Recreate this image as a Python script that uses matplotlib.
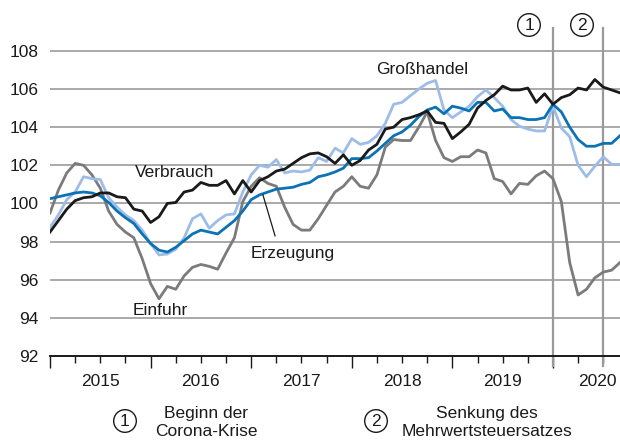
import matplotlib
matplotlib.use("Agg")
import matplotlib.pyplot as plt
from matplotlib.transforms import blended_transform_factory

plt.rcParams['font.family'] = ['Liberation Sans', 'DejaVu Sans']

# Monatswerte Januar 2015 bis September 2020 (Index)
monate = list(range(69))

verbrauch = [98.5, 99.1, 99.7, 100.15, 100.3, 100.35, 100.55, 100.55, 100.35, 100.3,
             99.7, 99.6, 99.0, 99.3, 100.0, 100.05, 100.6, 100.7, 101.1, 100.95,
             100.95, 101.2, 100.5, 101.2, 100.6, 101.2, 101.4, 101.7, 101.8, 102.1,
             102.4, 102.6, 102.65, 102.45, 102.1, 102.55, 102.0, 102.25, 102.8, 103.1,
             103.9, 104.0, 104.4, 104.5, 104.65, 104.85, 104.25, 104.2, 103.4, 103.75,
             104.15, 105.0, 105.4, 105.7, 106.15, 105.95, 105.95, 106.05, 105.3, 105.75,
             105.2, 105.55, 105.7, 106.05, 105.95, 106.5, 106.1, 105.95, 105.8]

erzeugung = [100.25, 100.35, 100.45, 100.55, 100.6, 100.55, 100.4, 100.05, 99.6, 99.25,
             98.95, 98.4, 97.9, 97.55, 97.45, 97.7, 98.05, 98.4, 98.6, 98.5,
             98.4, 98.75, 99.1, 99.6, 100.2, 100.45, 100.6, 100.75, 100.8, 100.85,
             101.0, 101.1, 101.4, 101.5, 101.65, 101.85, 102.35, 102.35, 102.4, 102.75,
             103.15, 103.55, 103.75, 104.1, 104.55, 104.9, 105.05, 104.7, 105.1, 105.0,
             104.85, 105.3, 105.3, 104.85, 104.95, 104.5, 104.5, 104.4, 104.4, 104.5,
             105.2, 104.8, 104.0, 103.35, 103.0, 103.0, 103.15, 103.15, 103.55]

grosshandel = [98.75, 99.4, 100.2, 100.6, 101.4, 101.3, 101.25, 100.3, 99.8, 99.4,
               99.1, 98.6, 97.9, 97.3, 97.35, 97.6, 98.2, 99.2, 99.45, 98.7,
               99.1, 99.4, 99.45, 100.6, 101.5, 102.0, 101.9, 102.3, 101.6, 101.7,
               101.65, 101.75, 102.4, 102.2, 102.9, 102.65, 103.4, 103.1, 103.2, 103.55,
               104.2, 105.2, 105.3, 105.65, 106.0, 106.3, 106.45, 104.9, 104.5, 104.8,
               105.1, 105.6, 105.95, 105.55, 105.1, 104.4, 104.05, 103.9, 103.8, 103.8,
               105.1, 103.95, 103.5, 102.0, 101.4, 101.95, 102.45, 102.05, 102.05]

einfuhr = [99.5, 100.7, 101.6, 102.1, 102.0, 101.5, 100.8, 99.6, 98.9, 98.5,
           98.2, 97.1, 95.8, 95.0, 95.65, 95.5, 96.2, 96.65, 96.8, 96.7,
           96.55, 97.4, 98.2, 100.1, 100.9, 101.35, 101.05, 100.9, 99.8, 98.9,
           98.6, 98.6, 99.2, 99.9, 100.6, 100.9, 101.4, 100.9, 100.8, 101.5,
           102.95, 103.35, 103.3, 103.3, 104.0, 104.8, 103.3, 102.4, 102.2, 102.45,
           102.45, 102.8, 102.65, 101.3, 101.15, 100.5, 101.05, 101.0, 101.45, 101.7,
           101.3, 100.1, 96.9, 95.2, 95.5, 96.1, 96.4, 96.5, 96.9]

jahre = ['2015', '2016', '2017', '2018', '2019', '2020']
jahr_pos = [6, 18, 30, 42, 54, 65.3]
y_ticks = [92, 94, 96, 98, 100, 102, 104, 106, 108]
ereignisse = [60, 66]  # 1: Beginn Corona-Krise, 2: Senkung MwSt

fig = plt.figure(figsize=(6.2, 4.4), dpi=100)
ax = fig.add_axes([50 / 620, 84 / 440, 570 / 620, 328 / 440])

# Gitterlinien
for y in y_ticks[1:]:
    ax.axhline(y, color='#a3a3a3', lw=1.3, zorder=1)

ax.plot(monate, einfuhr, color='#7b7b7b', lw=2.0, zorder=3)
ax.plot(monate, grosshandel, color='#9dbde8', lw=2.0, zorder=3)
ax.plot(monate, erzeugung, color='#0a72b5', lw=2.0, zorder=4)
ax.plot(monate, verbrauch, color='#1a1a1a', lw=2.0, zorder=5)

for xv in ereignisse:
    ax.axvline(xv, ymin=-0.032, ymax=1.0, color='#9a9a9a', lw=1.6, clip_on=False, zorder=2)

ax.set_xlim(0, 68)
ax.set_ylim(92, 109.2)

ax.set_yticks(y_ticks)
ax.set_yticklabels([str(v) for v in y_ticks], fontsize=12.5, color='#1a1a1a')
ax.tick_params(axis='y', length=0, pad=8)

ax.set_xticks(range(0, 61, 12))
ax.set_xticks(range(0, 69, 3), minor=True)
ax.set_xticklabels([])
ax.tick_params(axis='x', which='major', length=8.6, width=1.0, color='#1a1a1a')
ax.tick_params(axis='x', which='minor', length=5, width=1.0, color='#1a1a1a')

trans = blended_transform_factory(ax.transData, ax.transAxes)
for pos, lab in zip(jahr_pos, jahre):
    ax.text(pos, -0.079, lab, transform=trans, ha='center', va='center',
            fontsize=12.5, color='#1a1a1a')

for s in ['left', 'right', 'top']:
    ax.spines[s].set_visible(False)
ax.spines['bottom'].set_color('#1a1a1a')
ax.spines['bottom'].set_linewidth(1.4)

# Reihenbeschriftungen
ax.text(10.1, 101.6, 'Verbrauch', fontsize=12.5, ha='left', va='center', color='#1a1a1a')
ax.text(38.9, 107.0, 'Großhandel', fontsize=12.5, ha='left', va='center', color='#1a1a1a')
ax.text(23.9, 97.4, 'Erzeugung', fontsize=12.5, ha='left', va='center', color='#1a1a1a')
ax.text(9.9, 94.4, 'Einfuhr', fontsize=12.5, ha='left', va='center', color='#1a1a1a')
ax.plot([25.4, 26.85], [100.45, 98.3], color='#1a1a1a', lw=0.9, zorder=6)

# Nummern in Kreisen
kreis = dict(boxstyle='circle,pad=0.22', fc='white', ec='#1a1a1a', lw=1.0)
for x, y, n in [(529, 25, '1'), (582, 25, '2'), (125, 421, '1'), (376, 421, '2')]:
    fig.text(x / 620, 1 - y / 440, n, ha='center', va='center', fontsize=12.5,
             color='#1a1a1a', bbox=kreis)

fig.text(206 / 620, 1 - 422 / 440, 'Beginn der\nCorona-Krise', ha='center', va='center',
         fontsize=12.5, color='#1a1a1a', linespacing=1.25)
fig.text(487 / 620, 1 - 422 / 440, 'Senkung des\nMehrwertsteuersatzes', ha='center',
         va='center', fontsize=12.5, color='#1a1a1a', linespacing=1.25)

fig.savefig('out.png', dpi=100)
